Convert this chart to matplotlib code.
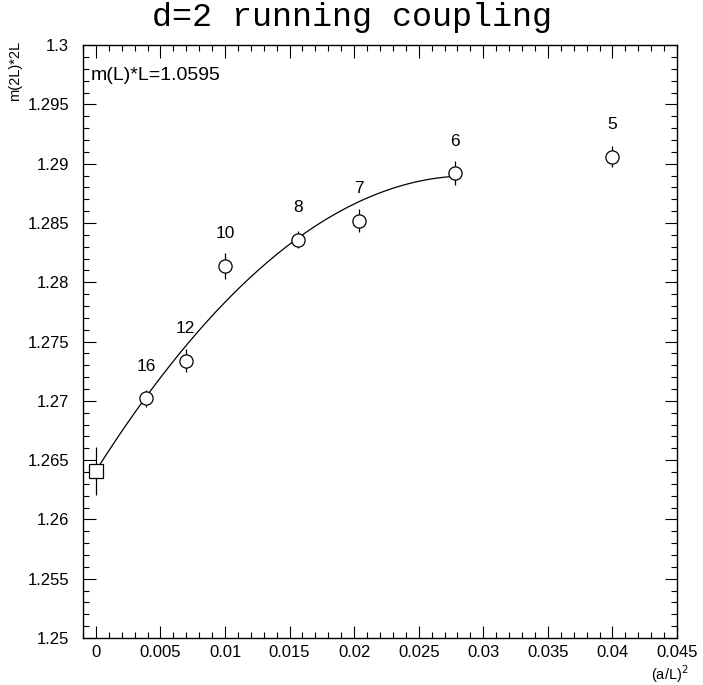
import numpy as np
import matplotlib
matplotlib.use("Agg")
import matplotlib.pyplot as plt
from matplotlib.ticker import MultipleLocator

# Data
L_sizes = [16, 12, 10, 8, 7, 6, 5]
x_vals = [1/16**2, 1/12**2, 1/10**2, 1/8**2, 1/7**2, 1/6**2, 1/5**2]
y_vals = [1.2702, 1.2734, 1.2814, 1.2836, 1.2852, 1.2892, 1.2906]
y_errs = [0.0007, 0.0010, 0.0011, 0.0007, 0.0010, 0.0010, 0.0009]

extrap_x = [0.0]
extrap_y = [1.2641]
extrap_err = [0.0020]

# quadratic fit curve parameters (a + b x + c x^2), range
fit_coef = [1.2641, 1.719, -29.7]
fit_range = [0.0, 0.0275]

x_ticks = [0, 0.005, 0.01, 0.015, 0.02, 0.025, 0.03, 0.035, 0.04, 0.045]
y_ticks = [1.25, 1.255, 1.26, 1.265, 1.27, 1.275, 1.28, 1.285, 1.29, 1.295, 1.3]

title = "d=2 running coupling"
annot = "m(L)*L=1.0595"
ylabel = "m(2L)*2L"
xlabel = "(a/L)$^2$"

fig = plt.figure(figsize=(7.03, 6.85), dpi=100)
ax = fig.add_axes([0.118, 0.0686, 0.845, 0.8656])

lw = 0.9
ax.errorbar(x_vals, y_vals, yerr=y_errs, fmt='o', ms=9.5, mfc='white', mec='black',
            mew=lw, ecolor='black', elinewidth=lw, capsize=0, zorder=3)
ax.errorbar(extrap_x, extrap_y, yerr=extrap_err, fmt='s', ms=9.5, mfc='white', mec='black',
            mew=lw, ecolor='black', elinewidth=lw, capsize=0, zorder=3)

xf = np.linspace(fit_range[0], fit_range[1], 200)
yf = fit_coef[0] + fit_coef[1]*xf + fit_coef[2]*xf**2
ax.plot(xf, yf, color='black', lw=lw, zorder=2)

lab_font = 'Liberation Sans'
for L, x, y in zip(L_sizes, x_vals, y_vals):
    ax.annotate(str(L), (x, y), xytext=(0, 23), textcoords='offset points',
                ha='center', va='center', fontsize=12.5, family=lab_font)

ax.set_xlim(-0.001, 0.045)
ax.set_ylim(1.25, 1.3)
ax.xaxis.set_minor_locator(MultipleLocator(0.001))
ax.yaxis.set_minor_locator(MultipleLocator(0.001))
ax.tick_params(which='both', direction='in', top=True, right=True, width=0.8)
ax.tick_params(which='major', length=9, labelsize=12)
ax.tick_params(axis='x', which='major', pad=5)
ax.tick_params(axis='y', which='major', pad=10)
ax.tick_params(which='minor', length=4.5)
ax.set_xticks(x_ticks)
ax.set_xticklabels([f"{v:g}" for v in x_ticks], family=lab_font)
ax.set_yticks(y_ticks)
ax.set_yticklabels([f"{v:g}" for v in y_ticks], family=lab_font)
for s in ax.spines.values():
    s.set_linewidth(1.0)

ax.text(0.013, 0.948, annot, transform=ax.transAxes, fontsize=14, family=lab_font,
        ha='left', va='center')
fig.text(0.5, 0.975, title, ha='center', va='center', fontsize=24, family='Liberation Mono')
fig.text(0.022, 0.94, ylabel, rotation=90, ha='center', va='top', fontsize=10.5, family=lab_font)
fig.text(0.953, 0.016, xlabel, ha='center', va='center', fontsize=10.5, family=lab_font)

fig.savefig("out.png", dpi=100)
